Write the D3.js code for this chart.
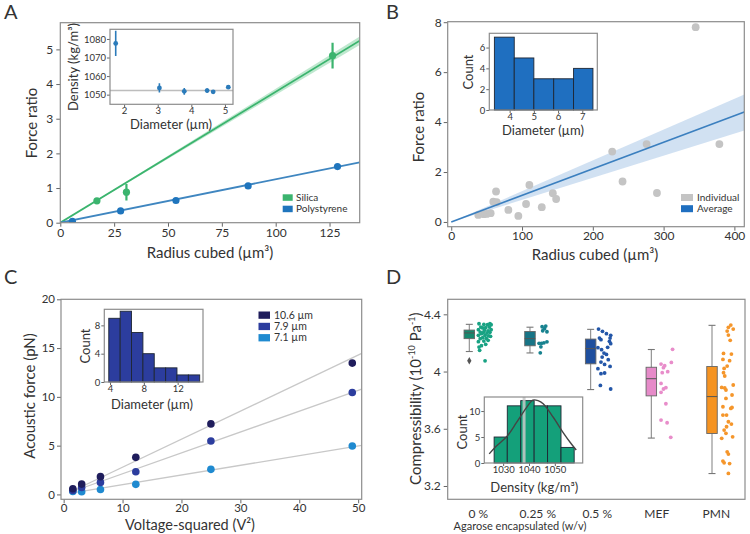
<!DOCTYPE html>
<html><head><meta charset="utf-8">
<script src="https://cdn.jsdelivr.net/npm/d3@7"></script>
<style>body{margin:0;background:#fff} text{font-family:Lato,"Open Sans",sans-serif;fill:#333}</style>
</head><body><svg id="c" width="750" height="534"></svg>
<script>
// ---------- Panel A data ----------
const silicaX = [17, 30.7, 126.4];
const silicaY = [0.63, 0.88, 4.82];
const silicaErr = [0.05, 0.24, 0.37];
const psX = [5.6, 28.0, 53.7, 87.2, 128.7];
const psY = [0.04, 0.34, 0.64, 1.06, 1.62];
const silicaFitX = [0, 139], silicaFitY = [0, 5.25];
const silicaBandLo = [0, 5.13], silicaBandHi = [0, 5.37];
const psFitX = [0, 139], psFitY = [0, 1.74];
const aXTicks = [0, 25, 50, 75, 100, 125], aYTicks = [0, 1, 2, 3, 4, 5];
const insetADiam = [1.75, 3.05, 3.79, 4.47, 4.65, 5.1];
const insetADens = [1077.6, 1053.6, 1051.8, 1052.2, 1051.5, 1054.0];
const insetAErr = [6.8, 2.5, 1.8, 1.2, 0.6, 1.0];
const insetARef = 1052.2;
// ---------- Panel B data ----------
const indivX = [38.2, 46, 50.1, 55.7, 59.4, 63.3, 64.2, 80.7, 94.8, 105.7, 110.4, 127.9, 143.5, 148.2, 227.4, 242, 276, 290.6, 345.3, 378.8];
const indivY = [0.28, 0.31, 0.32, 0.35, 0.81, 1.22, 0.79, 0.48, 0.24, 0.72, 1.48, 0.59, 1.15, 0.92, 2.82, 1.62, 3.12, 1.16, 7.8, 3.12];
const avgFitX = [0, 414], avgFitY = [0, 4.40];
const avgBandLo = [0, 3.66], avgBandHi = [0, 5.10];
const bXTicks = [0, 100, 200, 300, 400], bYTicks = [0, 2, 4, 6, 8];
const histBEdges = [3.37, 4.19, 5.0, 5.82, 6.64, 7.44];
const histBCounts = [7, 5, 3, 3, 4];
// ---------- Panel C data ----------
const voltSq = [1.56, 3.06, 6.25, 12.25, 25, 49];
const sizeLabels = ["10.6 µm", "7.9 µm", "7.1 µm"];
const force106 = [0.58, 1.06, 1.82, 3.80, 7.23, 13.46];
const force79 = [0.41, 0.72, 1.23, 2.33, 5.48, 10.45];
const force71 = [0.30, 0.27, 0.51, 1.03, 2.57, 4.97];
const fitCX = [1.5, 50.6];
const fit106 = [0.35, 14.45], fit79 = [0.30, 10.8], fit71 = [0.15, 5.03];
const cXTicks = [0, 10, 20, 30, 40, 50], cYTicks = [0, 5, 10, 15, 20];
const histCEdges = [3.85, 5.2, 6.54, 7.89, 9.23, 10.58, 11.92, 13.27, 14.61];
const histCCounts = [9, 10, 7, 4, 2, 2, 1, 1];
// ---------- Panel D data ----------
const dCats = ["0 %", "0.25 %", "0.5 %", "MEF", "PMN"];
const boxWhiskLo = [4.14, 4.13, 3.874, 3.535, 3.287];
const boxQ1 = [4.23, 4.18, 4.054, 3.83, 3.567];
const boxMed = [4.27, 4.23, 4.16, 3.95, 3.825];
const boxQ3 = [4.29, 4.28, 4.227, 4.03, 4.035];
const boxWhiskHi = [4.33, 4.31, 4.295, 4.154, 4.323];
const outliers0 = [4.075];
const dots0 = [4.334, 4.329, 4.327, 4.334, 4.327, 4.311, 4.307, 4.311, 4.305, 4.293, 4.288, 4.284, 4.293, 4.276, 4.272, 4.269, 4.274, 4.265, 4.253, 4.249, 4.253, 4.246, 4.237, 4.232, 4.23, 4.218, 4.213, 4.209, 4.19, 4.171, 4.181, 4.148, 4.075];
const jit0 = [0.16, 0.24, 0.30, 0.34, 0.36, 0.19, 0.27, 0.33, 0.22, 0.15, 0.25, 0.31, 0.36, 0.18, 0.23, 0.29, 0.34, 0.20, 0.26, 0.32, 0.15, 0.35, 0.22, 0.28, 0.18, 0.31, 0.24, 0.15, 0.27, 0.16, 0.20, 0.17, 0.26];
const dots25 = [4.318, 4.313, 4.30, 4.285, 4.278, 4.208, 4.201, 4.197, 4.197, 4.173, 4.131];
const jit25 = [0.26, 0.20, 0.24, 0.21, 0.28, 0.28, 0.23, 0.19, 0.15, 0.18, 0.17];
const dots05 = [4.297, 4.281, 4.265, 4.253, 4.234, 4.223, 4.234, 4.211, 4.195, 4.167, 4.153, 4.169, 4.129, 4.101, 4.12, 4.083, 4.066, 4.05, 4.036, 4.02, 3.985, 3.99, 3.903, 3.878];
const jit05 = [0.13, 0.195, 0.26, 0.33, 0.145, 0.17, 0.32, 0.31, 0.33, 0.12, 0.18, 0.28, 0.22, 0.19, 0.26, 0.29, 0.17, 0.23, 0.32, 0.12, 0.17, 0.23, 0.16, 0.33];
const dotsMEF = [4.155, 4.064, 4.052, 4.041, 4.027, 3.999, 3.992, 3.917, 3.887, 3.878, 3.855, 3.775, 3.661, 3.642, 3.54];
const jitMEF = [0.35, 0.33, 0.16, 0.22, 0.20, 0.27, 0.18, 0.16, 0.24, 0.20, 0.16, 0.24, 0.16, 0.26, 0.32];
const dotsPMN = [4.325, 4.309, 4.297, 4.283, 4.255, 4.218, 4.127, 4.122, 4.085, 4.076, 4.022, 4.038, 3.992, 3.969, 3.889, 3.885, 3.906, 3.871, 3.836, 3.812, 3.754, 3.742, 3.749, 3.696, 3.696, 3.649, 3.633, 3.614, 3.591, 3.568, 3.544, 3.533, 3.439, 3.423, 3.374, 3.362, 3.357, 3.288];
const jitPMN = [0.31, 0.27, 0.35, 0.25, 0.27, 0.30, 0.19, 0.32, 0.18, 0.29, 0.20, 0.25, 0.19, 0.21, 0.16, 0.21, 0.35, 0.23, 0.33, 0.23, 0.18, 0.31, 0.33, 0.24, 0.18, 0.27, 0.32, 0.24, 0.20, 0.23, 0.34, 0.16, 0.25, 0.27, 0.18, 0.20, 0.29, 0.27];
const dYTicks = [3.2, 3.6, 4, 4.4];
const histDEdges = [1026.5, 1031.6, 1036.8, 1042.0, 1047.2, 1052.4, 1057.5];
const histDCounts = [5, 11, 12, 11, 11, 3];
const kdeX = [1024.6, 1027.4, 1031.6, 1035.2, 1039.1, 1041.5, 1043.5, 1045.5, 1049.4, 1053.3, 1056.5, 1058.3];
const kdeY = [1.75, 3.25, 5.2, 7.8, 10.7, 12.1, 12.0, 11.4, 8.8, 5.8, 3.6, 2.5];
const densityMarker = 1038.1;

// ---------- helpers ----------
const svg = d3.select("#c");
const fmt = d3.format("~g");
function frame(g, x, y, xt, yt, o) {
  o = o || {};
  const fs = o.fs || 12, ts = o.ts || 4, pad = o.pad == null ? 2 : o.pad;
  const y0 = y.range()[0], x0 = x.range()[0];
  if (xt) {
    const ax = g.append("g").attr("transform", `translate(0,${y0})`)
      .call(d3.axisBottom(x).tickValues(xt).tickSize(ts).tickPadding(pad).tickFormat(o.xf || fmt));
    ax.select(".domain").remove();
    ax.selectAll("line").attr("stroke", "#666");
    ax.selectAll("text").attr("font-size", fs).attr("fill", "#333").attr("font-family", null);
  }
  if (yt) {
    const ay = g.append("g").attr("transform", `translate(${x0},0)`)
      .call(d3.axisLeft(y).tickValues(yt).tickSize(ts).tickPadding(pad + 1).tickFormat(o.yf || fmt));
    ay.select(".domain").remove();
    ay.selectAll("line").attr("stroke", "#666");
    ay.selectAll("text").attr("font-size", fs).attr("fill", "#333").attr("font-family", null);
  }
  const [xa, xb] = x.range(), [ya, yb] = y.range();
  g.append("rect").attr("x", xa).attr("y", yb).attr("width", xb - xa).attr("height", ya - yb)
    .attr("fill", "none").attr("stroke", o.stroke || "#8c8c8c").attr("stroke-width", 1.2);
}
function bg(g, x, y) {
  const [xa, xb] = x.range(), [ya, yb] = y.range();
  g.append("rect").attr("x", xa).attr("y", yb).attr("width", xb - xa).attr("height", ya - yb).attr("fill", "#fff");
}
function label(t, x, y, fs, rot, anchor) {
  const el = svg.append("text").attr("font-size", fs).attr("text-anchor", anchor || "middle");
  if (rot) el.attr("transform", `translate(${x},${y}) rotate(-90)`).attr("dy", "0.35em");
  else el.attr("x", x).attr("y", y);
  el.text(t);
  return el;
}
function clipFor(id, x, y) {
  const [xa, xb] = x.range(), [ya, yb] = y.range();
  svg.append("clipPath").attr("id", id).append("rect").attr("x", xa).attr("y", yb).attr("width", xb - xa).attr("height", ya - yb);
  return `url(#${id})`;
}
function hist(g, x, y, edges, counts, fill) {
  g.selectAll(null).data(counts).join("rect")
    .attr("x", (d, i) => x(edges[i])).attr("width", (d, i) => x(edges[i + 1]) - x(edges[i]))
    .attr("y", d => y(d)).attr("height", d => y(0) - y(d))
    .attr("fill", fill).attr("stroke", "#1e2633").attr("stroke-width", 0.9);
}
const insetAxis = { fs: 9.5, ts: 3, pad: 0 };

// panel letters
[["A", 4, 19], ["B", 386, 19], ["C", 4, 284], ["D", 386, 284]].forEach(d =>
  svg.append("text").attr("x", d[1]).attr("y", d[2]).attr("font-size", 20).text(d[0]));

// ================= Panel A =================
{
  const g = svg.append("g");
  const x = d3.scaleLinear([0, 139], [60.3, 359.7]);
  const y = d3.scaleLinear([0, 5.77], [222.7, 22.7]);
  const cp = clipFor("clipA", x, y);
  const pg = g.append("g").attr("clip-path", cp);
  const green = "#3bb46e";
  pg.append("path").datum(silicaFitX.map((v, i) => [v, silicaBandLo[i], silicaBandHi[i]]))
    .attr("d", d3.area().x(d => x(d[0])).y0(d => y(d[1])).y1(d => y(d[2])))
    .attr("fill", "#a9e0bf").attr("opacity", 0.75);
  pg.append("path").datum(silicaFitX.map((v, i) => [v, silicaFitY[i]]))
    .attr("d", d3.line().x(d => x(d[0])).y(d => y(d[1]))).attr("stroke", green).attr("stroke-width", 1.8).attr("fill", "none");
  pg.append("path").datum(psFitX.map((v, i) => [v, psFitY[i]]))
    .attr("d", d3.line().x(d => x(d[0])).y(d => y(d[1]))).attr("stroke", "#3f86c0").attr("stroke-width", 1.8).attr("fill", "none");
  pg.selectAll(null).data(silicaX).join("line")
    .attr("x1", d => x(d)).attr("x2", d => x(d))
    .attr("y1", (d, i) => y(silicaY[i] - silicaErr[i])).attr("y2", (d, i) => y(silicaY[i] + silicaErr[i]))
    .attr("stroke", green).attr("stroke-width", 2.2);
  pg.selectAll(null).data(silicaX).join("circle")
    .attr("cx", d => x(d)).attr("cy", (d, i) => y(silicaY[i])).attr("r", 3.6).attr("fill", green);
  pg.selectAll(null).data(psX).join("circle")
    .attr("cx", d => x(d)).attr("cy", (d, i) => y(psY[i])).attr("r", 3.6).attr("fill", "#1f75bd");
  frame(g, x, y, aXTicks, aYTicks);
  [["Silica", green, 194.3], ["Polystyrene", "#1f75bd", 205.7]].forEach(d => {
    g.append("rect").attr("x", 282.7).attr("y", d[2]).attr("width", 10).attr("height", 6.5).attr("fill", d[1]);
    g.append("text").attr("x", 296).attr("y", d[2] + 6.5).attr("font-size", 10).text(d[0]);
  });
  label("Force ratio", 31.7, 123, 15, true);
  label("Radius cubed (µm³)", 210, 257.5, 15);
  // inset
  const ix = d3.scaleLinear([1.58, 5.24], [110, 233]);
  const iy = d3.scaleLinear([1044.8, 1085.2], [104.3, 29.3]);
  const ig = svg.append("g");
  bg(ig, ix, iy);
  const ipg = ig.append("g").attr("clip-path", clipFor("clipAi", ix, iy));
  ipg.append("line").attr("x1", ix.range()[0]).attr("x2", ix.range()[1]).attr("y1", iy(insetARef)).attr("y2", iy(insetARef))
    .attr("stroke", "#bdbdbd").attr("stroke-width", 1.6);
  ipg.selectAll(null).data(insetADiam).join("line")
    .attr("x1", d => ix(d)).attr("x2", d => ix(d))
    .attr("y1", (d, i) => iy(insetADens[i] - insetAErr[i])).attr("y2", (d, i) => iy(insetADens[i] + insetAErr[i]))
    .attr("stroke", "#2b7bba").attr("stroke-width", 1.6);
  ipg.selectAll(null).data(insetADiam).join("circle")
    .attr("cx", d => ix(d)).attr("cy", (d, i) => iy(insetADens[i])).attr("r", 2.4).attr("fill", "#2b7bba");
  frame(ig, ix, iy, [2, 3, 4, 5], [1050, 1060, 1070, 1080], insetAxis);
  label("Density (kg/m³)", 73, 67, 13, true);
  label("Diameter (µm)", 171, 129, 13);
}

// ================= Panel B =================
{
  const g = svg.append("g");
  const x = d3.scaleLinear([-5, 414], [447.7, 744.3]);
  const y = d3.scaleLinear([-0.19, 8.02], [226.7, 21.7]);
  const pg = g.append("g").attr("clip-path", clipFor("clipB", x, y));
  pg.append("path").datum(avgFitX.map((v, i) => [v, avgBandLo[i], avgBandHi[i]]))
    .attr("d", d3.area().x(d => x(d[0])).y0(d => y(d[1])).y1(d => y(d[2])))
    .attr("fill", "#c9dcf0").attr("opacity", 0.85);
  pg.selectAll(null).data(indivX).join("circle")
    .attr("cx", d => x(d)).attr("cy", (d, i) => y(indivY[i])).attr("r", 3.9).attr("fill", "#c4c4c4");
  pg.append("path").datum(avgFitX.map((v, i) => [v, avgFitY[i]]))
    .attr("d", d3.line().x(d => x(d[0])).y(d => y(d[1]))).attr("stroke", "#3b7fbf").attr("stroke-width", 1.6).attr("fill", "none");
  frame(g, x, y, bXTicks, bYTicks, { pad: 1 });
  [["Individual", "#c4c4c4", 194], ["Average", "#1f6fc0", 205.2]].forEach(d => {
    g.append("rect").attr("x", 681).attr("y", d[2]).attr("width", 12).attr("height", 7).attr("fill", d[1]);
    g.append("text").attr("x", 697).attr("y", d[2] + 7).attr("font-size", 10).text(d[0]);
  });
  label("Force ratio", 418.3, 127, 15, true);
  label("Radius cubed (µm³)", 595, 260, 15);
  const ix = d3.scaleLinear([3.16, 7.62], [489.3, 597.3]);
  const iy = d3.scaleLinear([0, 7.37], [110, 33.3]);
  const ig = svg.append("g");
  bg(ig, ix, iy);
  hist(ig, ix, iy, histBEdges, histBCounts, "#1f6fc0");
  frame(ig, ix, iy, [4, 5, 6, 7], [0, 2, 4, 6], insetAxis);
  label("Count", 468.3, 72, 13, true);
  label("Diameter (µm)", 543, 134.5, 13);
}

// ================= Panel C =================
{
  const g = svg.append("g");
  const x = d3.scaleLinear([-0.45, 50.6], [61, 361.7]);
  const y = d3.scaleLinear([-0.5, 20], [499.3, 299.3]);
  const pg = g.append("g").attr("clip-path", clipFor("clipC", x, y));
  const cols = ["#1f1d5c", "#2c3d9e", "#1f8ad0"];
  const fits = [fit106, fit79, fit71];
  const forces = [force106, force79, force71];
  fits.forEach(f => pg.append("path").datum(fitCX.map((v, i) => [v, f[i]]))
    .attr("d", d3.line().x(d => x(d[0])).y(d => y(d[1]))).attr("stroke", "#c8c8c8").attr("stroke-width", 1.3).attr("fill", "none"));
  [2, 1, 0].forEach(k => pg.selectAll(null).data(voltSq).join("circle")
    .attr("cx", d => x(d)).attr("cy", (d, i) => y(forces[k][i])).attr("r", 3.8).attr("fill", cols[k]));
  frame(g, x, y, cXTicks, cYTicks, { fs: 11.5, pad: 1 });
  sizeLabels.forEach((s, i) => {
    g.append("rect").attr("x", 258.5).attr("y", 311.5 + i * 11.3).attr("width", 11.5).attr("height", 7.3).attr("fill", cols[i]);
    g.append("text").attr("x", 274).attr("y", 318.8 + i * 11.3).attr("font-size", 10.5).text(s);
  });
  label("Acoustic force (pN)", 30, 396, 15, true);
  label("Voltage-squared (V²)", 190, 530, 14.5);
  const ix = d3.scaleLinear([3.32, 15.0], [104.3, 203]);
  const iy = d3.scaleLinear([0, 10.27], [382, 309.3]);
  const ig = svg.append("g");
  bg(ig, ix, iy);
  hist(ig, ix, iy, histCEdges, histCCounts, "#2c3d9e");
  frame(ig, ix, iy, [4, 8, 12], [0, 4, 8], insetAxis);
  label("Count", 85, 346, 13, true);
  label("Diameter (µm)", 152, 408.5, 13);
}

// ================= Panel D =================
{
  const g = svg.append("g");
  const yr = d3.scaleLinear([3.107, 4.505], [499.3, 299.3]);
  const xr = d3.scaleLinear([0, 1], [447.7, 745]);
  const xb = d3.scalePoint(dCats, [469.3, 712]);
  const xl = d3.scalePoint(dCats, [478.3, 716.3]);
  const step = xb.step();
  const boxFill = ["#16896f", "#177486", "#1f4f9e", "#e68bc9", "#f59321"];
  const dotFill = ["#18a283", "#17828f", "#2356a8", "#e88dca", "#f5962b"];
  const dots = [dots0, dots25, dots05, dotsMEF, dotsPMN];
  const jits = [jit0, jit25, jit05, jitMEF, jitPMN];
  const bw = 10.5;
  dCats.forEach((c, i) => {
    const cx = xb(c);
    g.append("line").attr("x1", cx).attr("x2", cx).attr("y1", yr(boxWhiskLo[i])).attr("y2", yr(boxWhiskHi[i]))
      .attr("stroke", "#8a8a8a").attr("stroke-width", 1.1);
    [boxWhiskLo[i], boxWhiskHi[i]].forEach(v => g.append("line").attr("x1", cx - 3.5).attr("x2", cx + 3.5)
      .attr("y1", yr(v)).attr("y2", yr(v)).attr("stroke", "#777").attr("stroke-width", 1.1));
    g.append("rect").attr("x", cx - bw / 2).attr("width", bw).attr("y", yr(boxQ3[i])).attr("height", yr(boxQ1[i]) - yr(boxQ3[i]))
      .attr("fill", boxFill[i]).attr("stroke", "#666").attr("stroke-width", 0.9);
    g.append("line").attr("x1", cx - bw / 2).attr("x2", cx + bw / 2).attr("y1", yr(boxMed[i])).attr("y2", yr(boxMed[i]))
      .attr("stroke", "#555").attr("stroke-width", 1);
    g.selectAll(null).data(dots[i]).join("circle")
      .attr("cx", (d, k) => cx + jits[i][k] * step).attr("cy", d => yr(d)).attr("r", 1.9).attr("fill", dotFill[i]);
  });
  g.selectAll(null).data(outliers0).join("path")
    .attr("d", d3.symbol(d3.symbolDiamond, 16)).attr("transform", d => `translate(${xb(dCats[0])},${yr(d)})`).attr("fill", "#555");
  frame(g, xr, yr, null, dYTicks, { yf: d3.format("~g") });
  g.selectAll(null).data(dCats).join("text").attr("x", d => xl(d)).attr("y", 517.5)
    .attr("text-anchor", "middle").attr("font-size", 12).text(d => d);
  const yt = label("", 415.7, 398.7, 15, true);
  yt.append("tspan").text("Compressibility (10");
  yt.append("tspan").attr("font-size", 9).attr("dy", -6).text("-10");
  yt.append("tspan").attr("dy", 6).text(" Pa");
  yt.append("tspan").attr("font-size", 9).attr("dy", -6).text("-1");
  yt.append("tspan").attr("dy", 6).text(")");
  label("Agarose encapsulated (w/v)", 520, 530, 11);
  // inset
  const ix = d3.scaleLinear([1022.7, 1060.8], [484.3, 582.7]);
  const iy = d3.scaleLinear([0, 12.7], [463, 397]);
  const ig = svg.append("g");
  bg(ig, ix, iy);
  hist(ig, ix, iy, histDEdges, histDCounts, "#14a07a");
  ig.append("line").attr("x1", ix(densityMarker)).attr("x2", ix(densityMarker)).attr("y1", iy(0)).attr("y2", iy(12.7))
    .attr("stroke", "#c8c8c8").attr("stroke-width", 3).attr("opacity", 0.85);
  ig.append("path").datum(kdeX.map((v, i) => [v, kdeY[i]]))
    .attr("d", d3.line().curve(d3.curveCatmullRom).x(d => ix(d[0])).y(d => iy(d[1])))
    .attr("fill", "none").attr("stroke", "#444").attr("stroke-width", 1.4);
  frame(ig, ix, iy, [1030, 1040, 1050], [0, 5, 10], insetAxis);
  label("Count", 462.3, 432, 13, true);
  label("Density (kg/m³)", 534.3, 491.5, 13);
}
</script></body></html>
